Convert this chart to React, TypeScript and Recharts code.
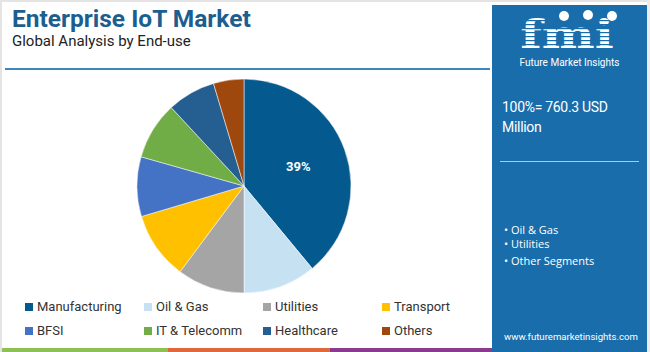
import React from "react";
import { PieChart, Pie, Cell } from "recharts";

const categories = ["Manufacturing", "Oil & Gas", "Utilities", "Transport", "BFSI", "IT & Telecomm", "Healthcare", "Others"];
const shares = [39, 11, 10.2, 10.2, 9, 8.7, 7.3, 4.6];
const colors = ["#045a8f", "#c5e1f2", "#a5a5a5", "#ffc000", "#4472c4", "#70ad47", "#255e91", "#9e480e"];
const shownLabels = ["39%", "", "", "", "", "", "", ""];
const panelBullets = ["Oil & Gas", "Utilities", "Other Segments"];

const data = categories.map((name, i) => ({ name, value: shares[i], label: shownLabels[i] }));

const RADIAN = Math.PI / 180;
const renderLabel = (props: any) => {
  const { cx, cy, midAngle, outerRadius, index } = props;
  const text = shownLabels[index];
  if (!text) return null;
  const r = outerRadius * 0.54;
  const x = cx + r * Math.cos(-midAngle * RADIAN);
  const y = cy + r * Math.sin(-midAngle * RADIAN);
  return (
    <text x={x} y={y} fill="#ffffff" fontSize={13} fontWeight={700} fontFamily="Roboto, sans-serif" textAnchor="middle" dominantBaseline="central">
      {text}
    </text>
  );
};

const PANEL = "#1a6dab";
const FONT = "Roboto, 'Open Sans', sans-serif";

export default function App() {
  return (
    <div style={{ position: "absolute", left: 0, top: 0, width: 650, height: 352, background: "#ffffff", overflow: "hidden", fontFamily: FONT }}>
      {/* frame */}
      <div style={{ position: "absolute", left: 0, top: 0, width: 650, height: 2, background: "#e4e4e4" }} />
      <div style={{ position: "absolute", left: 0, top: 0, width: 2, height: 352, background: "#e4e4e4" }} />
      <div style={{ position: "absolute", left: 647, top: 0, width: 3, height: 352, background: "#ececec" }} />

      {/* title */}
      <div style={{ position: "absolute", left: 12, top: 4, fontSize: 24.5, lineHeight: "30px", fontWeight: 700, color: "#1b5e8f", whiteSpace: "nowrap" }}>
        Enterprise IoT Market
      </div>
      <div style={{ position: "absolute", left: 12, top: 32, fontSize: 15, lineHeight: "18px", color: "#222", whiteSpace: "nowrap" }}>
        Global Analysis by End-use
      </div>
      <div style={{ position: "absolute", left: 5, top: 68, width: 485, height: 2, background: "#3d87bf" }} />

      {/* bottom stripe */}
      <div style={{ position: "absolute", left: 2, top: 348, width: 166, height: 4, background: "#8dc153" }} />
      <div style={{ position: "absolute", left: 168, top: 348, width: 162, height: 4, background: "#e0683c" }} />
      <div style={{ position: "absolute", left: 330, top: 348, width: 164, height: 4, background: "#8b3b8f" }} />

      {/* right panel */}
      <div style={{ position: "absolute", left: 492, top: 5, width: 155, height: 347, background: PANEL }}>
        <svg width={155} height={56} style={{ position: "absolute", left: 0, top: 0 }}>
          <g transform="translate(75,0) scale(1.25,1)">
            <text x={0} y={43} textAnchor="middle" fill="#ffffff" fontSize={40} fontWeight={700} fontFamily="'DejaVu Serif', serif">
              fmi
            </text>
          </g>
          {[15, 19, 23, 27, 31, 35, 39].map((y) => (
            <rect key={y} x={15} y={y} width={120} height={1.2} fill={PANEL} />
          ))}
          <circle cx={72} cy={11} r={5} fill="#ffffff" />
          <circle cx={96} cy={10} r={5} fill="#ffffff" />
          <circle cx={120} cy={11} r={5} fill="#ffffff" />
        </svg>
        <div style={{ position: "absolute", left: 0, top: 53, width: 155, textAlign: "center", fontSize: 10, lineHeight: "10px", color: "#ffffff" }}>
          Future Market Insights
        </div>
        <div style={{ position: "absolute", left: 10, top: 92, fontSize: 14, letterSpacing: -0.3, color: "#ffffff", lineHeight: "20px" }}>
          100%= 760.3 USD
          <br />
          Million
        </div>
        <div style={{ position: "absolute", left: 8, top: 156, width: 139, height: 1, background: "#a8cbe6" }} />
        <div style={{ position: "absolute", left: 12, top: 218, fontSize: 11, color: "#ffffff", lineHeight: "14px", fontFamily: "'Open Sans', sans-serif" }}>
          {panelBullets.map((b, i) => (
            <div key={b} style={{ marginTop: i === 2 ? 3 : 0 }}>• {b}</div>
          ))}
        </div>
        <div style={{ position: "absolute", left: 12, top: 326, fontSize: 9.6, lineHeight: "12px", color: "#ffffff" }}>
          www.futuremarketinsights.com
        </div>
      </div>

      {/* pie */}
      <div style={{ position: "absolute", left: 0, top: 0 }}>
        <PieChart width={490} height={300} margin={{ top: 0, right: 0, bottom: 0, left: 0 }}>
          <Pie
            data={data}
            dataKey="value"
            nameKey="name"
            cx={244}
            cy={186}
            outerRadius={107}
            startAngle={90}
            endAngle={-270}
            stroke="#ffffff"
            strokeWidth={0.5}
            label={renderLabel}
            labelLine={false}
            isAnimationActive={false}
          >
            {data.map((d, i) => (
              <Cell key={d.name} fill={colors[i]} />
            ))}
          </Pie>
        </PieChart>
      </div>

      {/* legend */}
      {categories.map((c, i) => {
        const col = i % 4;
        const row = Math.floor(i / 4);
        const xs = [25, 144, 263, 382];
        return (
          <div key={c} style={{ position: "absolute", left: xs[col], top: 299 + row * 24, lineHeight: "16px", display: "flex", alignItems: "center", fontSize: 13, color: "#333", whiteSpace: "nowrap" }}>
            <span style={{ display: "inline-block", width: 8, height: 8, background: colors[i], marginRight: 4 }} />
            {c}
          </div>
        );
      })}
    </div>
  );
}
